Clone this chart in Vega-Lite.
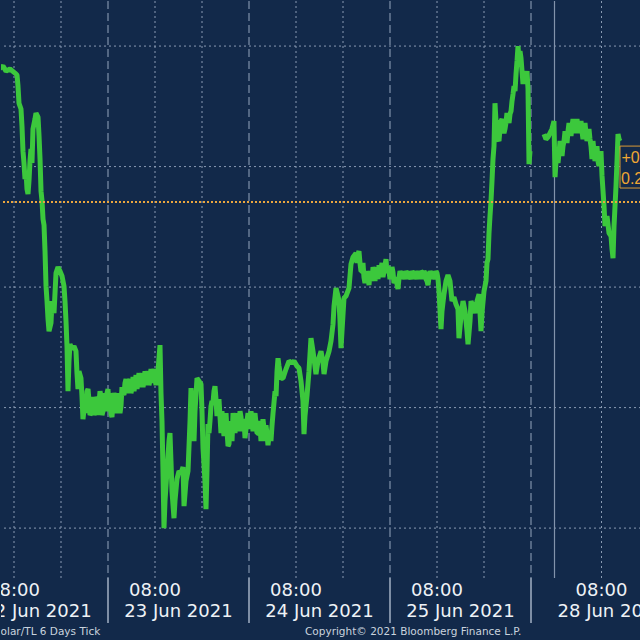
{
  "$schema": "https://vega.github.io/schema/vega-lite/v6.json",
  "background": "#12294a",
  "padding": 0,
  "spacing": 0,
  "bounds": "flush",
  "config": {"view": {"stroke": null}, "font": "DejaVu Sans"},
  "vconcat": [
    {
      "width": 640,
      "height": 577,
      "layer": [
        {
          "data": {"values": [{"rate": 8.80}, {"rate": 8.75}, {"rate": 8.70}, {"rate": 8.65}, {"rate": 8.60}]},
          "mark": {"type": "rule", "color": "#8a9bb3", "strokeWidth": 1, "strokeDash": [2, 3]},
          "encoding": {"y": {"field": "rate", "type": "quantitative", "scale": {"domain": [8.5793, 8.8187], "nice": false, "zero": false}, "axis": null}}
        },
        {
          "data": {"values": [{"hour": 8}, {"hour": 16}, {"hour": 32}, {"hour": 40}, {"hour": 56}, {"hour": 64}, {"hour": 80}, {"hour": 88}, {"hour": 108}]},
          "mark": {"type": "rule", "color": "#8a9bb3", "strokeWidth": 1, "strokeDash": [2, 3]},
          "encoding": {"x": {"field": "hour", "type": "quantitative", "scale": {"domain": [5.787, 114.723], "nice": false, "zero": false}, "axis": null}}
        },
        {
          "data": {"values": [{"hour": 24}, {"hour": 48}, {"hour": 72}, {"hour": 96}]},
          "mark": {"type": "rule", "color": "#7f91aa", "strokeWidth": 1.2, "strokeDash": [8, 4]},
          "encoding": {"x": {"field": "hour", "type": "quantitative", "axis": null}}
        },
        {
          "data": {"values": [{"hour": 100}]},
          "mark": {"type": "rule", "color": "#8293ab", "strokeWidth": 1.2},
          "encoding": {"x": {"field": "hour", "type": "quantitative", "axis": null}}
        },
        {
          "data": {"values": [
            {"session":"A","hour":5.45,"rate":8.7905},{"session":"A","hour":6.13,"rate":8.7917},{"session":"A","hour":6.64,"rate":8.7896},{"session":"A","hour":7.32,"rate":8.7905},{"session":"A","hour":8.17,"rate":8.7888},{"session":"A","hour":8.51,"rate":8.7880},{"session":"A","hour":8.68,"rate":8.7834},{"session":"A","hour":8.85,"rate":8.7763},{"session":"A","hour":9.19,"rate":8.7739},{"session":"A","hour":9.36,"rate":8.7668},
            {"session":"A","hour":9.53,"rate":8.7564},{"session":"A","hour":9.70,"rate":8.7515},{"session":"A","hour":9.87,"rate":8.7448},{"session":"A","hour":10.04,"rate":8.7481},{"session":"A","hour":10.21,"rate":8.7407},{"session":"A","hour":10.38,"rate":8.7386},{"session":"A","hour":10.55,"rate":8.7440},{"session":"A","hour":10.72,"rate":8.7523},{"session":"A","hour":10.89,"rate":8.7573},{"session":"A","hour":11.06,"rate":8.7515},
            {"session":"A","hour":11.23,"rate":8.7656},{"session":"A","hour":11.57,"rate":8.7697},{"session":"A","hour":11.74,"rate":8.7722},{"session":"A","hour":12.09,"rate":8.7705},{"session":"A","hour":12.26,"rate":8.7627},{"session":"A","hour":12.43,"rate":8.7531},{"session":"A","hour":12.60,"rate":8.7398},{"session":"A","hour":12.77,"rate":8.7357},{"session":"A","hour":12.94,"rate":8.7282},{"session":"A","hour":13.11,"rate":8.7257},
            {"session":"A","hour":13.28,"rate":8.7149},{"session":"A","hour":13.45,"rate":8.7004},{"session":"A","hour":13.62,"rate":8.6942},{"session":"A","hour":13.79,"rate":8.6867},{"session":"A","hour":13.96,"rate":8.6817},{"session":"A","hour":14.30,"rate":8.6851},{"session":"A","hour":14.47,"rate":8.6942},{"session":"A","hour":14.81,"rate":8.6892},{"session":"A","hour":15.15,"rate":8.7058},{"session":"A","hour":15.49,"rate":8.7083},
            {"session":"A","hour":15.83,"rate":8.7066},{"session":"A","hour":16.17,"rate":8.7046},{"session":"A","hour":16.51,"rate":8.7004},{"session":"A","hour":16.68,"rate":8.6942},{"session":"A","hour":16.85,"rate":8.6859},{"session":"A","hour":17.02,"rate":8.6755},{"session":"A","hour":17.19,"rate":8.6568},{"session":"A","hour":17.36,"rate":8.6693},{"session":"A","hour":17.53,"rate":8.6763},{"session":"A","hour":17.87,"rate":8.6743},
            {"session":"A","hour":18.21,"rate":8.6755},{"session":"A","hour":18.55,"rate":8.6734},{"session":"A","hour":18.72,"rate":8.6643},{"session":"A","hour":18.89,"rate":8.6577},{"session":"A","hour":19.06,"rate":8.6651},{"session":"A","hour":19.40,"rate":8.6622},{"session":"A","hour":19.57,"rate":8.6548},{"session":"A","hour":19.74,"rate":8.6452},{"session":"A","hour":20.09,"rate":8.6527},{"session":"A","hour":20.43,"rate":8.6568},
            {"session":"A","hour":20.77,"rate":8.6527},{"session":"A","hour":21.11,"rate":8.6477},{"session":"A","hour":21.45,"rate":8.6506},{"session":"A","hour":21.79,"rate":8.6485},{"session":"A","hour":22.13,"rate":8.6535},{"session":"A","hour":22.47,"rate":8.6519},{"session":"A","hour":22.81,"rate":8.6544},{"session":"A","hour":23.15,"rate":8.6485},{"session":"A","hour":23.49,"rate":8.6535},{"session":"A","hour":23.83,"rate":8.6560},
            {"session":"A","hour":24.00,"rate":8.6577},{"session":"A","hour":24.17,"rate":8.6506},{"session":"A","hour":24.51,"rate":8.6473},{"session":"A","hour":24.85,"rate":8.6527},{"session":"A","hour":25.19,"rate":8.6544},{"session":"A","hour":25.53,"rate":8.6506},{"session":"A","hour":25.87,"rate":8.6527},{"session":"A","hour":26.21,"rate":8.6506},{"session":"A","hour":26.55,"rate":8.6560},{"session":"A","hour":26.89,"rate":8.6602},
            {"session":"A","hour":27.23,"rate":8.6589},{"session":"A","hour":27.57,"rate":8.6606},{"session":"A","hour":28.09,"rate":8.6581},{"session":"A","hour":28.60,"rate":8.6602},{"session":"A","hour":29.11,"rate":8.6610},{"session":"A","hour":29.62,"rate":8.6622},{"session":"A","hour":30.13,"rate":8.6610},{"session":"A","hour":30.64,"rate":8.6627},{"session":"A","hour":31.15,"rate":8.6614},{"session":"A","hour":31.66,"rate":8.6639},
            {"session":"A","hour":32.00,"rate":8.6618},{"session":"A","hour":32.17,"rate":8.6593},{"session":"A","hour":32.51,"rate":8.6651},{"session":"A","hour":32.85,"rate":8.6759},{"session":"A","hour":33.02,"rate":8.6560},{"session":"A","hour":33.19,"rate":8.6444},{"session":"A","hour":33.36,"rate":8.6237},{"session":"A","hour":33.53,"rate":8.6000},{"session":"A","hour":33.70,"rate":8.6112},{"session":"A","hour":34.04,"rate":8.6237},
            {"session":"A","hour":34.38,"rate":8.6361},{"session":"A","hour":34.55,"rate":8.6394},{"session":"A","hour":34.72,"rate":8.6278},{"session":"A","hour":34.89,"rate":8.6154},{"session":"A","hour":35.23,"rate":8.6041},{"session":"A","hour":35.40,"rate":8.6112},{"session":"A","hour":35.74,"rate":8.6203},{"session":"A","hour":36.09,"rate":8.6237},{"session":"A","hour":36.43,"rate":8.6228},{"session":"A","hour":36.77,"rate":8.6253},
            {"session":"A","hour":36.94,"rate":8.6091},{"session":"A","hour":37.28,"rate":8.6195},{"session":"A","hour":37.62,"rate":8.6237},{"session":"A","hour":37.96,"rate":8.6444},{"session":"A","hour":38.13,"rate":8.6581},{"session":"A","hour":38.30,"rate":8.6527},{"session":"A","hour":38.64,"rate":8.6361},{"session":"A","hour":38.81,"rate":8.6485},{"session":"A","hour":39.15,"rate":8.6622},{"session":"A","hour":39.49,"rate":8.6610},
            {"session":"A","hour":39.83,"rate":8.6598},{"session":"A","hour":40.00,"rate":8.6485},{"session":"A","hour":40.17,"rate":8.6332},{"session":"A","hour":40.51,"rate":8.6195},{"session":"A","hour":40.68,"rate":8.6079},{"session":"A","hour":40.85,"rate":8.6237},{"session":"A","hour":41.02,"rate":8.6432},{"session":"A","hour":41.36,"rate":8.6444},{"session":"A","hour":41.70,"rate":8.6527},{"session":"A","hour":42.04,"rate":8.6568},
            {"session":"A","hour":42.38,"rate":8.6535},{"session":"A","hour":42.72,"rate":8.6498},{"session":"A","hour":43.06,"rate":8.6465},{"session":"A","hour":43.23,"rate":8.6394},{"session":"A","hour":43.57,"rate":8.6436},{"session":"A","hour":43.91,"rate":8.6452},{"session":"A","hour":44.26,"rate":8.6402},{"session":"A","hour":44.60,"rate":8.6349},{"session":"A","hour":44.94,"rate":8.6402},{"session":"A","hour":45.45,"rate":8.6444},
            {"session":"A","hour":45.96,"rate":8.6452},{"session":"A","hour":46.30,"rate":8.6436},{"session":"A","hour":46.64,"rate":8.6461},{"session":"A","hour":46.98,"rate":8.6444},{"session":"A","hour":47.32,"rate":8.6373},{"session":"A","hour":47.66,"rate":8.6444},{"session":"A","hour":47.83,"rate":8.6477},{"session":"A","hour":48.17,"rate":8.6444},{"session":"A","hour":48.51,"rate":8.6452},{"session":"A","hour":48.85,"rate":8.6461},
            {"session":"A","hour":49.19,"rate":8.6436},{"session":"A","hour":49.53,"rate":8.6394},{"session":"A","hour":49.87,"rate":8.6423},{"session":"A","hour":50.21,"rate":8.6402},{"session":"A","hour":50.55,"rate":8.6415},{"session":"A","hour":51.06,"rate":8.6394},{"session":"A","hour":51.40,"rate":8.6378},{"session":"A","hour":51.74,"rate":8.6361},{"session":"A","hour":51.91,"rate":8.6423},{"session":"A","hour":52.09,"rate":8.6477},
            {"session":"A","hour":52.43,"rate":8.6568},{"session":"A","hour":52.60,"rate":8.6548},{"session":"A","hour":52.77,"rate":8.6651},{"session":"A","hour":52.94,"rate":8.6705},{"session":"A","hour":53.11,"rate":8.6672},{"session":"A","hour":53.45,"rate":8.6622},{"session":"A","hour":53.79,"rate":8.6622},{"session":"A","hour":54.30,"rate":8.6660},{"session":"A","hour":54.81,"rate":8.6693},{"session":"A","hour":55.32,"rate":8.6685},
            {"session":"A","hour":55.66,"rate":8.6693},{"session":"A","hour":56.17,"rate":8.6672},{"session":"A","hour":56.51,"rate":8.6664},{"session":"A","hour":56.85,"rate":8.6610},{"session":"A","hour":57.19,"rate":8.6527},{"session":"A","hour":57.36,"rate":8.6390},{"session":"A","hour":57.53,"rate":8.6465},{"session":"A","hour":57.87,"rate":8.6548},{"session":"A","hour":58.21,"rate":8.6651},{"session":"A","hour":58.55,"rate":8.6788},
            {"session":"A","hour":58.89,"rate":8.6734},{"session":"A","hour":59.23,"rate":8.6672},{"session":"A","hour":59.40,"rate":8.6639},{"session":"A","hour":59.74,"rate":8.6693},{"session":"A","hour":60.26,"rate":8.6734},{"session":"A","hour":60.60,"rate":8.6685},{"session":"A","hour":60.77,"rate":8.6639},{"session":"A","hour":61.11,"rate":8.6693},{"session":"A","hour":61.62,"rate":8.6734},{"session":"A","hour":61.96,"rate":8.6776},
            {"session":"A","hour":62.30,"rate":8.6846},{"session":"A","hour":62.47,"rate":8.6921},{"session":"A","hour":62.81,"rate":8.6996},{"session":"A","hour":63.15,"rate":8.6963},{"session":"A","hour":63.32,"rate":8.6942},{"session":"A","hour":63.49,"rate":8.6859},{"session":"A","hour":63.66,"rate":8.6747},{"session":"A","hour":63.83,"rate":8.6817},{"session":"A","hour":64.17,"rate":8.6954},{"session":"A","hour":64.51,"rate":8.6963},
            {"session":"A","hour":65.02,"rate":8.6996},{"session":"A","hour":65.19,"rate":8.7046},{"session":"A","hour":65.36,"rate":8.7095},{"session":"A","hour":65.70,"rate":8.7124},{"session":"A","hour":66.21,"rate":8.7141},{"session":"A","hour":66.55,"rate":8.7137},{"session":"A","hour":66.89,"rate":8.7100},{"session":"A","hour":67.23,"rate":8.7066},{"session":"A","hour":67.57,"rate":8.7041},{"session":"A","hour":67.91,"rate":8.7033},
            {"session":"A","hour":68.26,"rate":8.7037},{"session":"A","hour":68.77,"rate":8.7050},{"session":"A","hour":69.28,"rate":8.7066},{"session":"A","hour":69.79,"rate":8.7058},{"session":"A","hour":70.47,"rate":8.7079},{"session":"A","hour":70.98,"rate":8.7066},{"session":"A","hour":71.32,"rate":8.7116},{"session":"A","hour":71.66,"rate":8.7087},{"session":"A","hour":71.83,"rate":8.7066},{"session":"A","hour":72.17,"rate":8.7058},
            {"session":"A","hour":72.51,"rate":8.7062},{"session":"A","hour":72.85,"rate":8.7025},{"session":"A","hour":73.19,"rate":8.7012},{"session":"A","hour":73.53,"rate":8.7037},{"session":"A","hour":73.87,"rate":8.7054},{"session":"A","hour":74.38,"rate":8.7050},{"session":"A","hour":74.89,"rate":8.7058},{"session":"A","hour":75.40,"rate":8.7046},{"session":"A","hour":75.91,"rate":8.7058},{"session":"A","hour":76.43,"rate":8.7050},
            {"session":"A","hour":76.94,"rate":8.7054},{"session":"A","hour":77.45,"rate":8.7062},{"session":"A","hour":77.96,"rate":8.7058},{"session":"A","hour":78.30,"rate":8.7025},{"session":"A","hour":78.47,"rate":8.7008},{"session":"A","hour":78.64,"rate":8.7041},{"session":"A","hour":78.98,"rate":8.7054},{"session":"A","hour":79.49,"rate":8.7050},{"session":"A","hour":80.00,"rate":8.7058},{"session":"A","hour":80.34,"rate":8.6983},
            {"session":"A","hour":80.68,"rate":8.6826},{"session":"A","hour":80.85,"rate":8.6900},{"session":"A","hour":81.19,"rate":8.6971},{"session":"A","hour":81.53,"rate":8.7025},{"session":"A","hour":81.87,"rate":8.7050},{"session":"A","hour":82.21,"rate":8.7025},{"session":"A","hour":82.55,"rate":8.6942},{"session":"A","hour":82.89,"rate":8.6958},{"session":"A","hour":83.23,"rate":8.6929},{"session":"A","hour":83.57,"rate":8.6909},
            {"session":"A","hour":83.74,"rate":8.6788},{"session":"A","hour":84.09,"rate":8.6880},{"session":"A","hour":84.43,"rate":8.6942},{"session":"A","hour":84.77,"rate":8.6900},{"session":"A","hour":85.11,"rate":8.6817},{"session":"A","hour":85.28,"rate":8.6763},{"session":"A","hour":85.62,"rate":8.6859},{"session":"A","hour":85.79,"rate":8.6942},{"session":"A","hour":86.13,"rate":8.6921},{"session":"A","hour":86.47,"rate":8.6892},
            {"session":"A","hour":86.81,"rate":8.6942},{"session":"A","hour":87.15,"rate":8.6971},{"session":"A","hour":87.49,"rate":8.6817},{"session":"A","hour":87.66,"rate":8.6892},{"session":"A","hour":88.00,"rate":8.6983},{"session":"A","hour":88.34,"rate":8.7025},{"session":"A","hour":88.51,"rate":8.7100},{"session":"A","hour":88.68,"rate":8.7116},{"session":"A","hour":88.85,"rate":8.7224},{"session":"A","hour":89.02,"rate":8.7295},
            {"session":"A","hour":89.19,"rate":8.7357},{"session":"A","hour":89.36,"rate":8.7440},{"session":"A","hour":89.53,"rate":8.7531},{"session":"A","hour":89.70,"rate":8.7585},{"session":"A","hour":89.87,"rate":8.7763},{"session":"A","hour":90.04,"rate":8.7689},{"session":"A","hour":90.21,"rate":8.7639},{"session":"A","hour":90.38,"rate":8.7614},{"session":"A","hour":90.72,"rate":8.7656},{"session":"A","hour":90.89,"rate":8.7689},
            {"session":"A","hour":91.23,"rate":8.7664},{"session":"A","hour":91.40,"rate":8.7639},{"session":"A","hour":91.74,"rate":8.7681},{"session":"A","hour":92.09,"rate":8.7701},{"session":"A","hour":92.43,"rate":8.7718},{"session":"A","hour":92.60,"rate":8.7730},{"session":"A","hour":92.94,"rate":8.7801},{"session":"A","hour":93.11,"rate":8.7834},{"session":"A","hour":93.45,"rate":8.7884},{"session":"A","hour":93.62,"rate":8.7938},
            {"session":"A","hour":93.79,"rate":8.8000},{"session":"A","hour":93.96,"rate":8.7946},{"session":"A","hour":94.30,"rate":8.7950},{"session":"A","hour":94.47,"rate":8.7896},{"session":"A","hour":94.64,"rate":8.7842},{"session":"A","hour":94.81,"rate":8.7896},{"session":"A","hour":95.15,"rate":8.7863},{"session":"A","hour":95.49,"rate":8.7822},{"session":"A","hour":95.66,"rate":8.7510},{"session":"A","hour":95.83,"rate":8.7564},
            {"session":"A","hour":20.26,"rate":8.6477},{"session":"A","hour":20.60,"rate":8.6577},{"session":"A","hour":20.94,"rate":8.6469},{"session":"A","hour":21.28,"rate":8.6544},{"session":"A","hour":21.62,"rate":8.6469},{"session":"A","hour":21.96,"rate":8.6544},{"session":"A","hour":22.30,"rate":8.6469},{"session":"A","hour":22.64,"rate":8.6568},{"session":"A","hour":22.98,"rate":8.6469},{"session":"A","hour":23.32,"rate":8.6560},
            {"session":"A","hour":23.66,"rate":8.6485},{"session":"A","hour":24.34,"rate":8.6560},{"session":"A","hour":24.68,"rate":8.6461},{"session":"A","hour":25.02,"rate":8.6560},{"session":"A","hour":25.36,"rate":8.6477},{"session":"A","hour":25.70,"rate":8.6560},{"session":"A","hour":26.04,"rate":8.6477},{"session":"A","hour":26.38,"rate":8.6585},{"session":"A","hour":26.72,"rate":8.6552},{"session":"A","hour":27.06,"rate":8.6618},
            {"session":"A","hour":27.40,"rate":8.6560},{"session":"A","hour":27.74,"rate":8.6618},{"session":"A","hour":27.91,"rate":8.6560},{"session":"A","hour":28.26,"rate":8.6627},{"session":"A","hour":28.43,"rate":8.6568},{"session":"A","hour":28.77,"rate":8.6635},{"session":"A","hour":28.94,"rate":8.6577},{"session":"A","hour":29.28,"rate":8.6643},{"session":"A","hour":29.45,"rate":8.6585},{"session":"A","hour":29.79,"rate":8.6643},
            {"session":"A","hour":29.96,"rate":8.6585},{"session":"A","hour":30.30,"rate":8.6651},{"session":"A","hour":30.47,"rate":8.6593},{"session":"A","hour":30.81,"rate":8.6651},{"session":"A","hour":30.98,"rate":8.6593},{"session":"A","hour":31.32,"rate":8.6660},{"session":"A","hour":31.49,"rate":8.6602},{"session":"A","hour":31.83,"rate":8.6660},
            {"session":"A","hour":41.19,"rate":8.6394},{"session":"A","hour":41.53,"rate":8.6506},{"session":"A","hour":41.87,"rate":8.6519},{"session":"A","hour":42.21,"rate":8.6589},{"session":"A","hour":42.55,"rate":8.6465},{"session":"A","hour":42.89,"rate":8.6535},{"session":"A","hour":43.40,"rate":8.6485},{"session":"A","hour":43.74,"rate":8.6382},{"session":"A","hour":44.09,"rate":8.6477},{"session":"A","hour":44.43,"rate":8.6340},
            {"session":"A","hour":44.77,"rate":8.6444},{"session":"A","hour":45.11,"rate":8.6361},{"session":"A","hour":45.28,"rate":8.6477},{"session":"A","hour":45.62,"rate":8.6394},{"session":"A","hour":45.79,"rate":8.6477},{"session":"A","hour":46.13,"rate":8.6402},{"session":"A","hour":46.47,"rate":8.6485},{"session":"A","hour":46.81,"rate":8.6402},{"session":"A","hour":47.15,"rate":8.6452},{"session":"A","hour":47.49,"rate":8.6411},
            {"session":"A","hour":48.00,"rate":8.6411},{"session":"A","hour":48.34,"rate":8.6485},{"session":"A","hour":48.68,"rate":8.6402},{"session":"A","hour":49.02,"rate":8.6477},{"session":"A","hour":49.36,"rate":8.6394},{"session":"A","hour":49.70,"rate":8.6444},{"session":"A","hour":50.04,"rate":8.6361},{"session":"A","hour":50.38,"rate":8.6452},{"session":"A","hour":50.72,"rate":8.6361},{"session":"A","hour":50.89,"rate":8.6427},
            {"session":"A","hour":51.23,"rate":8.6344},{"session":"A","hour":51.57,"rate":8.6402},
            {"session":"A","hour":66.38,"rate":8.7100},{"session":"A","hour":66.72,"rate":8.7149},{"session":"A","hour":67.06,"rate":8.7066},{"session":"A","hour":67.40,"rate":8.7100},{"session":"A","hour":67.74,"rate":8.7017},{"session":"A","hour":68.09,"rate":8.7066},{"session":"A","hour":68.43,"rate":8.7008},{"session":"A","hour":68.60,"rate":8.7066},{"session":"A","hour":68.94,"rate":8.7025},{"session":"A","hour":69.11,"rate":8.7083},
            {"session":"A","hour":69.45,"rate":8.7025},{"session":"A","hour":69.62,"rate":8.7083},{"session":"A","hour":69.96,"rate":8.7033},{"session":"A","hour":70.13,"rate":8.7091},{"session":"A","hour":70.30,"rate":8.7041},{"session":"A","hour":70.64,"rate":8.7100},{"session":"A","hour":70.81,"rate":8.7041},{"session":"A","hour":71.15,"rate":8.7091},{"session":"A","hour":71.49,"rate":8.7058},{"session":"A","hour":72.00,"rate":8.7033},
            {"session":"A","hour":72.34,"rate":8.7083},{"session":"A","hour":72.68,"rate":8.7017},{"session":"A","hour":73.02,"rate":8.7041},{"session":"A","hour":73.36,"rate":8.6992},{"session":"A","hour":73.70,"rate":8.7066},{"session":"A","hour":74.04,"rate":8.7033},{"session":"A","hour":74.21,"rate":8.7066},{"session":"A","hour":74.55,"rate":8.7033},{"session":"A","hour":74.72,"rate":8.7066},{"session":"A","hour":75.06,"rate":8.7033},
            {"session":"A","hour":75.23,"rate":8.7066},{"session":"A","hour":75.57,"rate":8.7033},{"session":"A","hour":75.74,"rate":8.7066},{"session":"A","hour":76.09,"rate":8.7033},{"session":"A","hour":76.26,"rate":8.7066},{"session":"A","hour":76.60,"rate":8.7033},{"session":"A","hour":76.77,"rate":8.7066},{"session":"A","hour":77.11,"rate":8.7033},{"session":"A","hour":77.28,"rate":8.7066},{"session":"A","hour":77.62,"rate":8.7033},
            {"session":"A","hour":77.79,"rate":8.7066},{"session":"A","hour":78.13,"rate":8.7033},{"session":"A","hour":78.81,"rate":8.7066},{"session":"A","hour":79.15,"rate":8.7033},{"session":"A","hour":79.32,"rate":8.7066},{"session":"A","hour":79.66,"rate":8.7033},{"session":"A","hour":79.83,"rate":8.7066},{"session":"A","hour":80.17,"rate":8.7033},
            {"session":"A","hour":90.55,"rate":8.7606},{"session":"A","hour":91.06,"rate":8.7697},{"session":"A","hour":91.57,"rate":8.7656},{"session":"A","hour":91.91,"rate":8.7722},{"session":"A","hour":92.26,"rate":8.7681},{"session":"A","hour":92.77,"rate":8.7772},{"session":"A","hour":93.28,"rate":8.7813},{"session":"A","hour":94.13,"rate":8.7979},{"session":"A","hour":94.98,"rate":8.7855},{"session":"A","hour":95.32,"rate":8.7896},
            {"session":"B","hour":98.21,"rate":8.7635},{"session":"B","hour":98.55,"rate":8.7614},{"session":"B","hour":98.89,"rate":8.7622},{"session":"B","hour":99.23,"rate":8.7639},{"session":"B","hour":99.57,"rate":8.7656},{"session":"B","hour":99.91,"rate":8.7689},{"session":"B","hour":100.09,"rate":8.7456},{"session":"B","hour":100.26,"rate":8.7523},{"session":"B","hour":100.43,"rate":8.7564},{"session":"B","hour":100.77,"rate":8.7556},
            {"session":"B","hour":101.11,"rate":8.7577},{"session":"B","hour":101.45,"rate":8.7585},{"session":"B","hour":101.62,"rate":8.7606},{"session":"B","hour":101.96,"rate":8.7627},{"session":"B","hour":102.30,"rate":8.7647},{"session":"B","hour":102.64,"rate":8.7656},{"session":"B","hour":102.98,"rate":8.7668},{"session":"B","hour":103.32,"rate":8.7664},{"session":"B","hour":103.66,"rate":8.7672},{"session":"B","hour":104.00,"rate":8.7660},
            {"session":"B","hour":104.34,"rate":8.7664},{"session":"B","hour":104.68,"rate":8.7647},{"session":"B","hour":105.02,"rate":8.7656},{"session":"B","hour":105.36,"rate":8.7639},{"session":"B","hour":105.70,"rate":8.7635},{"session":"B","hour":106.04,"rate":8.7614},{"session":"B","hour":106.21,"rate":8.7585},{"session":"B","hour":106.38,"rate":8.7531},{"session":"B","hour":106.72,"rate":8.7564},{"session":"B","hour":107.06,"rate":8.7552},
            {"session":"B","hour":107.40,"rate":8.7523},{"session":"B","hour":107.74,"rate":8.7531},{"session":"B","hour":108.09,"rate":8.7461},{"session":"B","hour":108.26,"rate":8.7398},{"session":"B","hour":108.43,"rate":8.7336},{"session":"B","hour":108.60,"rate":8.7253},{"session":"B","hour":108.94,"rate":8.7295},{"session":"B","hour":109.28,"rate":8.7224},{"session":"B","hour":109.62,"rate":8.7212},{"session":"B","hour":109.79,"rate":8.7158},
            {"session":"B","hour":109.96,"rate":8.7120},{"session":"B","hour":110.13,"rate":8.7253},{"session":"B","hour":110.30,"rate":8.7336},{"session":"B","hour":110.47,"rate":8.7419},{"session":"B","hour":110.64,"rate":8.7523},{"session":"B","hour":110.81,"rate":8.7635},{"session":"B","hour":110.98,"rate":8.7614},{"session":"B","hour":111.15,"rate":8.7606},
            {"session":"B","hour":100.60,"rate":8.7515},{"session":"B","hour":100.94,"rate":8.7606},{"session":"B","hour":101.28,"rate":8.7544},{"session":"B","hour":101.79,"rate":8.7647},{"session":"B","hour":102.13,"rate":8.7598},{"session":"B","hour":102.47,"rate":8.7681},{"session":"B","hour":102.81,"rate":8.7627},{"session":"B","hour":103.15,"rate":8.7697},{"session":"B","hour":103.49,"rate":8.7639},{"session":"B","hour":103.83,"rate":8.7697},
            {"session":"B","hour":104.17,"rate":8.7639},{"session":"B","hour":104.51,"rate":8.7689},{"session":"B","hour":104.85,"rate":8.7614},{"session":"B","hour":105.19,"rate":8.7681},{"session":"B","hour":105.53,"rate":8.7606},{"session":"B","hour":105.87,"rate":8.7656},{"session":"B","hour":106.55,"rate":8.7606},{"session":"B","hour":106.89,"rate":8.7523},{"session":"B","hour":107.23,"rate":8.7585},{"session":"B","hour":107.57,"rate":8.7502},
            {"session":"B","hour":107.91,"rate":8.7564}
          ]},
          "mark": {"type": "line", "color": "#3cc83c", "strokeWidth": 5, "strokeJoin": "bevel", "clip": true},
          "encoding": {
            "x": {"field": "hour", "type": "quantitative", "axis": {"values": [8,12,16,20,24,28,32,36,40,44,48,52,56,60,64,68,72,76,80,84,88,92,96,100,104,108,112], "labels": false, "ticks": true, "tickSize": 5, "tickWidth": 1.5, "tickColor": "#b3bfce", "domain": true, "domainColor": "#b3bfce", "domainWidth": 2, "grid": false, "title": null}},
            "y": {"field": "rate", "type": "quantitative", "axis": null},
            "detail": {"field": "session"}
          }
        },
        {
          "data": {"values": [{"rate": 8.7353}]},
          "mark": {"type": "rule", "color": "#eaa63e", "strokeWidth": 2, "strokeDash": [2, 2]},
          "encoding": {"y": {"field": "rate", "type": "quantitative", "axis": null}}
        },
        {
          "data": {"values": [{"from": 111.15, "to": 116, "top": 8.7585, "bottom": 8.7411}]},
          "mark": {"type": "rect", "fill": "#12294a", "stroke": "#d99a36", "strokeWidth": 1, "clip": true},
          "encoding": {
            "x": {"field": "from", "type": "quantitative", "axis": null},
            "x2": {"field": "to"},
            "y": {"field": "top", "type": "quantitative", "axis": null},
            "y2": {"field": "bottom"}
          }
        },
        {
          "data": {"values": [{"hour": 111.40, "rate": 8.7535, "label": "+0.0253"}, {"hour": 111.32, "rate": 8.7448, "label": "0.29%"}]},
          "mark": {"type": "text", "align": "left", "baseline": "middle", "fontSize": 16, "font": "Liberation Sans", "color": "#f0a733", "clip": true},
          "encoding": {
            "x": {"field": "hour", "type": "quantitative", "axis": null},
            "y": {"field": "rate", "type": "quantitative", "axis": null},
            "text": {"field": "label"}
          }
        }
      ]
    },
    {
      "width": 640,
      "height": 45,
      "layer": [
        {
          "data": {"values": [{"hour": 24}, {"hour": 48}, {"hour": 72}, {"hour": 96}]},
          "mark": {"type": "rule", "color": "#a3b1c4", "strokeWidth": 1.5},
          "encoding": {"x": {"field": "hour", "type": "quantitative", "scale": {"domain": [5.787, 114.723], "nice": false, "zero": false}, "axis": null}}
        },
        {
          "data": {"values": [
            {"hour": 8, "row": "time", "label": "08:00"},
            {"hour": 32, "row": "time", "label": "08:00"},
            {"hour": 56, "row": "time", "label": "08:00"},
            {"hour": 80, "row": "time", "label": "08:00"},
            {"hour": 108, "row": "time", "label": "08:00"},
            {"hour": 12, "row": "date", "label": "22 Jun 2021"},
            {"hour": 36, "row": "date", "label": "23 Jun 2021"},
            {"hour": 60, "row": "date", "label": "24 Jun 2021"},
            {"hour": 84, "row": "date", "label": "25 Jun 2021"},
            {"hour": 109.73, "row": "date", "label": "28 Jun 2021"}
          ]},
          "mark": {"type": "text", "fontSize": 18, "color": "#eef2f6", "baseline": "middle", "clip": true},
          "encoding": {
            "x": {"field": "hour", "type": "quantitative", "axis": null},
            "y": {"field": "row", "type": "nominal", "scale": {"type": "point", "domain": ["time", "date"], "range": [13, 34], "padding": 0}, "axis": null},
            "text": {"field": "label"}
          }
        }
      ]
    },
    {
      "width": 640,
      "height": 18,
      "layer": [
        {
          "data": {"values": [{"hour": 4.34, "label": "Dolar/TL 6 Days  Tick"}, {"hour": 57.53, "label": "Copyright\u00a9 2021 Bloomberg Finance L.P."}]},
          "mark": {"type": "text", "fontSize": 10.5, "color": "#c9d3de", "align": "left", "baseline": "middle", "clip": true},
          "encoding": {
            "x": {"field": "hour", "type": "quantitative", "scale": {"domain": [5.787, 114.723], "nice": false, "zero": false}, "axis": null},
            "text": {"field": "label"}
          }
        }
      ]
    }
  ]
}
